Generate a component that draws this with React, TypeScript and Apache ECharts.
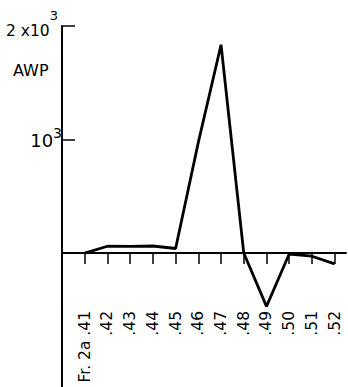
import React, { useEffect, useRef } from "react";
import * as echarts from "echarts";

const fractions = [41, 42, 43, 44, 45, 46, 47, 48, 49, 50, 51, 52];
const awp = [0, 60, 58, 62, 40, 975, 1835, 0, -470, -9, -28, -95];
const yTickValues = [1000, 2000];
const firstLabel = "Fr. 2a .41";

const FONT = "DejaVu Sans";

export default function App() {
  const ref = useRef<HTMLDivElement>(null);
  useEffect(() => {
    if (!ref.current) return;
    const chart = echarts.init(ref.current, null, { renderer: "svg" });
    const data = fractions.map((f, i) => [f, awp[i]]);
    chart.setOption({
      animation: false,
      backgroundColor: "#ffffff",
      grid: { left: 62, right: 2, top: 26, bottom: 0, containLabel: false, outerBoundsMode: "none" },
      xAxis: {
        type: "value",
        min: 40,
        max: 52.5,
        interval: 1,
        offset: -134,
        axisLine: { show: true, onZero: false, lineStyle: { color: "#000", width: 2 } },
        axisTick: {
          show: true,
          customValues: fractions,
          length: 11,
          inside: false,
          lineStyle: { color: "#000", width: 1.5 },
        },
        axisLabel: {
          show: true,
          customValues: fractions,
          rotate: 90,
          margin: 58,
          color: "#000",
          fontFamily: FONT,
          fontSize: 15.5,
          padding: [8, 0, 0, 0],
          formatter: (v: number) => (v === 41 ? firstLabel : "." + v),
        },
        splitLine: { show: false },
      },
      yAxis: {
        type: "value",
        min: -1180,
        max: 2000,
        axisLine: { show: true, onZero: false, lineStyle: { color: "#000", width: 2 } },
        axisTick: {
          show: true,
          customValues: yTickValues,
          inside: true,
          length: 13,
          lineStyle: { color: "#000", width: 1.5 },
        },
        axisLabel: {
          show: true,
          customValues: yTickValues,
          margin: 0,
          color: "#000",
          fontFamily: FONT,
          formatter: (v: number) => (v === 2000 ? "{a|2 x10}{s|3}" : "{b|10}{t|3}"),
          rich: {
            a: { fontFamily: FONT, fontSize: 15.5, color: "#000", padding: [14, 0, 4, 0] },
            s: { fontFamily: FONT, fontSize: 13, color: "#000", verticalAlign: "top", padding: [0, 4, 0, 0] },
            b: { fontFamily: FONT, fontSize: 18, color: "#000", padding: [6, 0, 4, 0] },
            t: { fontFamily: FONT, fontSize: 14, color: "#000", verticalAlign: "top" },
          },
        },
        splitLine: { show: false },
      },
      graphic: [
        {
          type: "text",
          left: 13,
          top: 62,
          style: { text: "AWP", fontFamily: FONT, fontSize: 16, fill: "#000" },
        },
      ],
      series: [
        {
          type: "line",
          data,
          symbol: "none",
          lineStyle: { color: "#000", width: 2.8 },
          z: 3,
        },
      ],
    });
    return () => chart.dispose();
  }, []);
  return (
    <div
      ref={ref}
      style={{ position: "absolute", left: 0, top: 0, width: 348, height: 387 }}
    />
  );
}
